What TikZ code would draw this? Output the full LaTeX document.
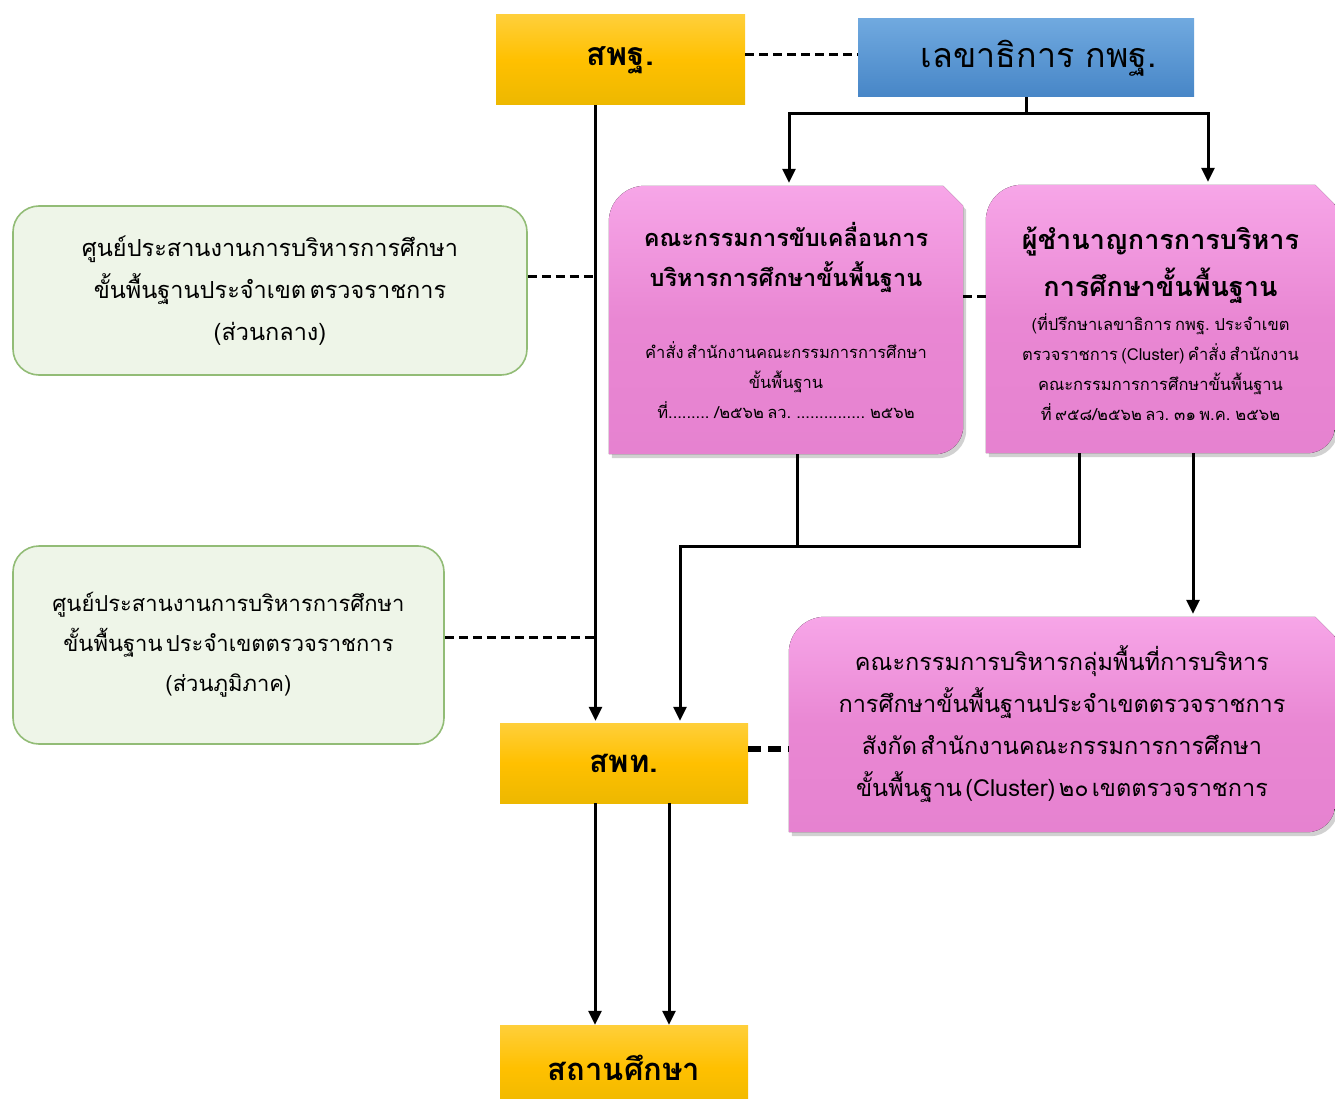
\documentclass[tikz,border=0pt]{standalone}
\usepackage{fontspec}
\newfontfamily\thai[Script=Thai]{Loma}
\usetikzlibrary{arrows.meta,backgrounds,calc}
\definecolor{ylwT}{HTML}{FFCF3A}
\definecolor{ylwM}{HTML}{FFC000}
\definecolor{ylwB}{HTML}{EDB800}
\definecolor{bluT}{HTML}{70A9DF}
\definecolor{bluB}{HTML}{4786C7}
\definecolor{pnkT}{HTML}{F7A6E8}
\definecolor{pnkM}{HTML}{E987D3}
\definecolor{pnkB}{HTML}{E682D0}
\definecolor{grnF}{HTML}{EEF5E8}
\definecolor{grnD}{HTML}{92BC76}
\newcommand\pinkshape[2]{%
  \fill[#2] (#1.south west) -- ([yshift=-36pt]#1.north west)
    arc[start angle=180,end angle=90,radius=36pt]
    -- ([xshift=-20pt]#1.north east) -- ([yshift=-20pt]#1.north east)
    -- ([yshift=28pt]#1.south east)
    arc[start angle=0,end angle=-90,radius=28pt] -- cycle;}
\begin{document}
\begin{tikzpicture}[x=1pt,y=1pt,
  every node/.style={font=\thai, text=black, inner sep=0pt, align=center},
  ybox/.style={rectangle, minimum width=248pt, top color=ylwT, bottom color=ylwB, middle color=ylwM},
  pbox/.style={rectangle, minimum width=#1},
  gbox/.style={rectangle, rounded corners=26pt, fill=grnF, draw=grnD, line width=1.6pt},
  conn/.style={line width=3pt, line join=miter},
  arr/.style={conn, -{Triangle[length=14pt,width=13pt]}},
  dline/.style={line width=3pt, dash pattern=on 9pt off 5pt},
  tdline/.style={line width=6pt, dash pattern=on 13pt off 7pt}]
\useasboundingbox (0,-1099) rectangle (1335,0);

% top boxes
\node[ybox, minimum width=249pt, minimum height=90pt] (spc) at (620.5,-60)
  {\bfseries\fontsize{32}{36}\selectfont สพฐ.};
\node[rectangle, minimum width=336pt, minimum height=78pt, top color=bluT, bottom color=bluB] (sec) at (1026,-58)
  {\fontsize{34}{38}\selectfont\hspace*{26pt}เลขาธิการ กพฐ.};

% pink boxes
\node[pbox=354pt, minimum height=268pt, text width=340pt] (c1) at (786,-320)
  {\bfseries\fontsize{23.5}{40}\selectfont คณะกรรมการขับเคลื่อนการ\\บริหารการศึกษาขั้นพื้นฐาน\par\vspace{42pt}
   \mdseries\fontsize{16.5}{30}\selectfont คำสั่ง สำนักงานคณะกรรมการการศึกษา\\ขั้นพื้นฐาน\\ที่......... /๒๕๖๒ ลว. ............... ๒๕๖๒\par};
\node[pbox=349pt, minimum height=268pt, text width=345pt] (c2) at (1160.5,-319)
  {\bfseries\fontsize{27}{47}\selectfont ผู้ชำนาญการการบริหาร\\การศึกษาขั้นพื้นฐาน\par\vspace{4pt}
   \mdseries\fontsize{16.5}{30}\selectfont (ที่ปรึกษาเลขาธิการ กพฐ. ประจำเขต\\ตรวจราชการ (Cluster) คำสั่ง สำนักงาน\\คณะกรรมการการศึกษาขั้นพื้นฐาน\\ที่ ๙๕๘/๒๕๖๒ ลว. ๓๑ พ.ค. ๒๕๖๒\par\vspace{-10pt}};
\node[pbox=546pt, minimum height=215pt, text width=535pt] (c3) at (1062,-724.5)
  {\fontsize{23.5}{42}\selectfont คณะกรรมการบริหารกลุ่มพื้นที่การบริหาร\\การศึกษาขั้นพื้นฐานประจำเขตตรวจราชการ\\สังกัด สำนักงานคณะกรรมการการศึกษา\\ขั้นพื้นฐาน (Cluster) ๒๐ เขตตรวจราชการ\par};

% green boxes
\node[gbox, minimum width=514pt, minimum height=169pt, text width=500pt] (g1) at (270,-290.5)
  {\fontsize{23.5}{42}\selectfont ศูนย์ประสานงานการบริหารการศึกษา\\ขั้นพื้นฐานประจำเขต ตรวจราชการ\\(ส่วนกลาง)\par};
\node[gbox, minimum width=431pt, minimum height=198pt, text width=425pt] (g2) at (228.5,-645)
  {\fontsize{22}{40}\selectfont ศูนย์ประสานงานการบริหารการศึกษา\\ขั้นพื้นฐาน ประจำเขตตรวจราชการ\\(ส่วนภูมิภาค)\par};

% lower yellow boxes
\node[ybox, minimum height=80pt] (spt) at (624,-763)
  {\bfseries\fontsize{31}{36}\selectfont สพท.};
\node[ybox, minimum height=86pt] (sch) at (624,-1068)
  {\bfseries\fontsize{31}{36}\selectfont สถานศึกษา};

% pink shapes on background
\begin{scope}[on background layer]
  \begin{scope}[transform canvas={shift={(3pt,-4pt)}}]
    \pinkshape{c1}{black!18}
    \pinkshape{c2}{black!18}
    \pinkshape{c3}{black!18}
  \end{scope}
  \pinkshape{c1}{top color=pnkT, bottom color=pnkB, middle color=pnkM}
  \pinkshape{c2}{top color=pnkT, bottom color=pnkB, middle color=pnkM}
  \pinkshape{c3}{top color=pnkT, bottom color=pnkB, middle color=pnkM}
\end{scope}

% coordinates
\coordinate (hy1) at (0,-114);
\coordinate (hy2) at (0,-546);
\coordinate (b1) at ([xshift=3pt]c1.north);
\coordinate (b2) at ([xshift=47.5pt]c2.north);
\coordinate (v1) at ([xshift=-25pt]spc.south);
\coordinate (a2) at ([xshift=56pt]spt.north);
\coordinate (c1o) at ([xshift=11pt]c1.south);
\coordinate (c2o) at ([xshift=-81.5pt]c2.south);
\coordinate (c2p) at ([xshift=32.5pt]c2.south);
\coordinate (s1) at ([xshift=-29pt]spt.south);
\coordinate (s2) at ([xshift=45pt]spt.south);
\coordinate (g1d) at ([yshift=14.5pt]g1.east);
\coordinate (g2d) at ([yshift=8pt]g2.east);
\coordinate (sptd) at ([yshift=14pt]spt.east);

% connectors
\draw[dline] ([yshift=5pt]spc.east) -- ([yshift=3pt]sec.west);
\draw[conn] (sec.south) -- (sec.south |- hy1);
\draw[arr] (sec.south |- hy1) -- (b1 |- hy1) -- ([yshift=3pt]b1);
\draw[arr] (sec.south |- hy1) -- (b2 |- hy1) -- ([yshift=3pt]b2);
\draw[dline] ([yshift=24pt]c1.east) -- ([yshift=23pt]c2.west);
\draw[arr] (v1) -- ([yshift=2pt]v1 |- spt.north);
\draw[dline] (g1d) -- (g1d -| v1);
\draw[dline] (g2d) -- (g2d -| v1);
\draw[conn] (c1o) -- (c1o |- hy2);
\draw[arr] (c2o) -- (c2o |- hy2) -- (a2 |- hy2) -- ([yshift=2pt]a2);
\draw[arr] (c2p) -- ([yshift=3pt]c2p |- c3.north);
\draw[tdline] (sptd) -- (sptd -| c3.west);
\draw[arr] (s1) -- (s1 |- sch.north);
\draw[arr] (s2) -- (s2 |- sch.north);
\end{tikzpicture}
\end{document}
